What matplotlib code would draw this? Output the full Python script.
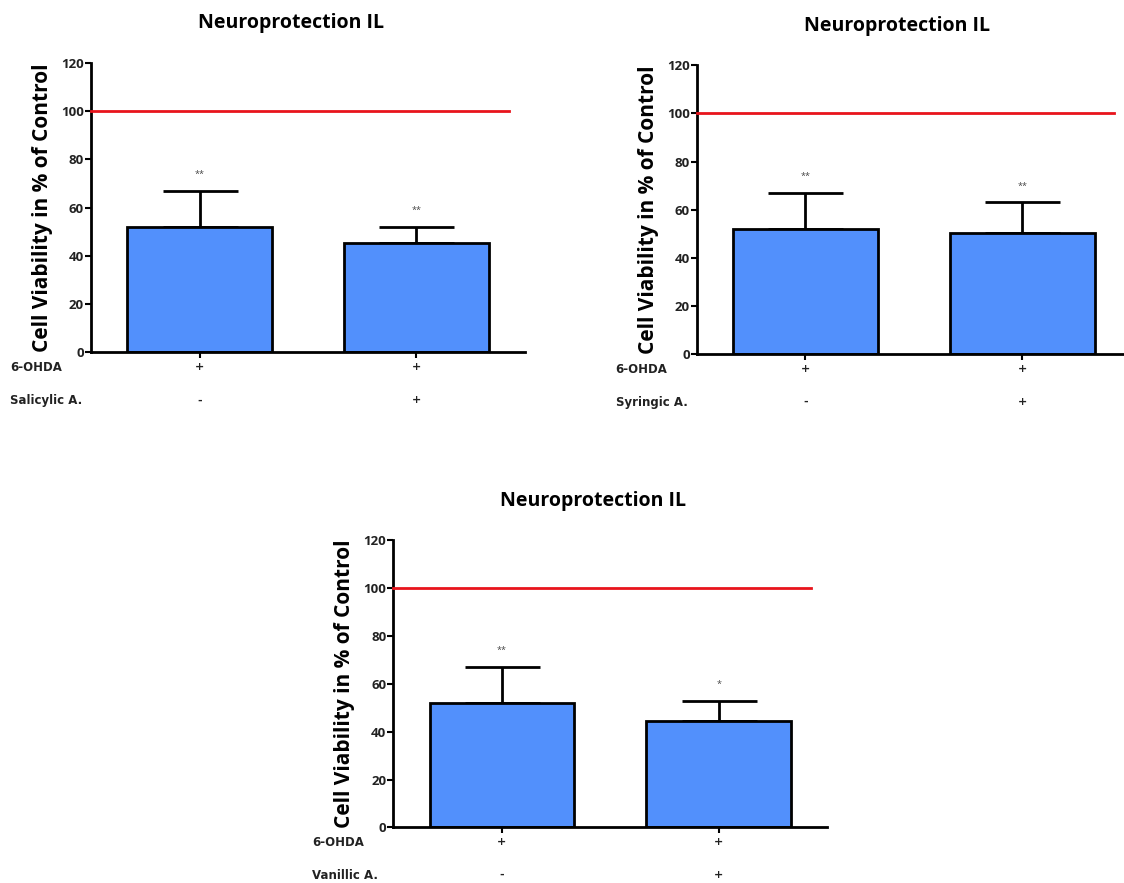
import matplotlib.pyplot as plt
import numpy as np

plt.rcParams['font.family'] = ['Open Sans', 'DejaVu Sans']

# Mean viability (% of control) and upper SEM for each treatment
titles = ["Neuroprotection IL", "Neuroprotection IL", "Neuroprotection IL"]
acids = ["Salicylic A.", "Syringic A.", "Vanillic A."]
means = [[52, 45.5], [52, 50.5], [52, 44.5]]
errors = [[15, 6.5], [15, 12.5], [15, 8.5]]
stars = [["**", "**"], ["**", "**"], ["**", "*"]]
ohda_signs = ["+", "+"]
acid_signs = ["-", "+"]
control_level = 100

bar_color = "#5290fc"
line_color = "#e8141c"
text_color = "#222222"

fig = plt.figure(figsize=(11.24, 8.83), dpi=100)

# left, bottom, width, height in figure fraction
positions = [
    [0.081, 0.601, 0.386, 0.328],
    [0.620, 0.599, 0.386, 0.327],
    [0.350, 0.063, 0.386, 0.325],
]

for k in range(3):
    ax = fig.add_axes(positions[k])
    x = np.arange(len(means[k]))
    ax.bar(x, means[k], width=0.667, color=bar_color, edgecolor="black",
           linewidth=2, zorder=2)
    ax.errorbar(x, means[k], yerr=[np.zeros(len(x)), errors[k]], fmt="none",
                ecolor="black", elinewidth=2, capsize=27, capthick=2, zorder=1)
    for i in range(len(x)):
        ax.text(x[i], means[k][i] + errors[k][i] + 5, stars[k][i],
                ha="center", va="bottom", fontsize=6.5, color="#444444")

    # reference line for untreated control
    ax.plot([-0.5, 1.425], [control_level, control_level], color=line_color,
            linewidth=2, zorder=3, clip_on=False)

    ax.set_xlim(-0.5, 1.5)
    ax.set_ylim(0, 120)
    ax.set_yticks(np.arange(0, 121, 20))
    ax.set_xticks(x)
    ax.set_xticklabels([])
    ax.tick_params(axis="both", direction="out", length=4, width=1.5,
                   labelsize=9.5, labelcolor=text_color, pad=1)
    for lab in ax.get_yticklabels():
        lab.set_fontweight("bold")
    ax.spines["top"].set_visible(False)
    ax.spines["right"].set_visible(False)
    ax.spines["left"].set_linewidth(2)
    ax.spines["bottom"].set_linewidth(2)

    ax.set_ylabel("Cell Viability in % of Control", fontsize=15,
                  fontweight="bold", labelpad=6)
    ax.set_title(titles[k], fontsize=14, fontweight="bold", x=0.461, pad=25)

    # treatment table under the bars
    for row_y, name, signs in [(-0.052, "6-OHDA", ohda_signs),
                               (-0.166, acids[k], acid_signs)]:
        ax.text(-0.187, row_y, name, transform=ax.transAxes, fontsize=8.5,
                family="DejaVu Sans", fontweight="bold", color=text_color,
                va="center", ha="left")
        for i in range(len(x)):
            ax.text(x[i], row_y, signs[i], transform=ax.get_xaxis_transform(),
                    ha="center", va="center", fontsize=8,
                    family="DejaVu Sans", fontweight="bold", color=text_color)

fig.savefig("out.png", dpi=100)
